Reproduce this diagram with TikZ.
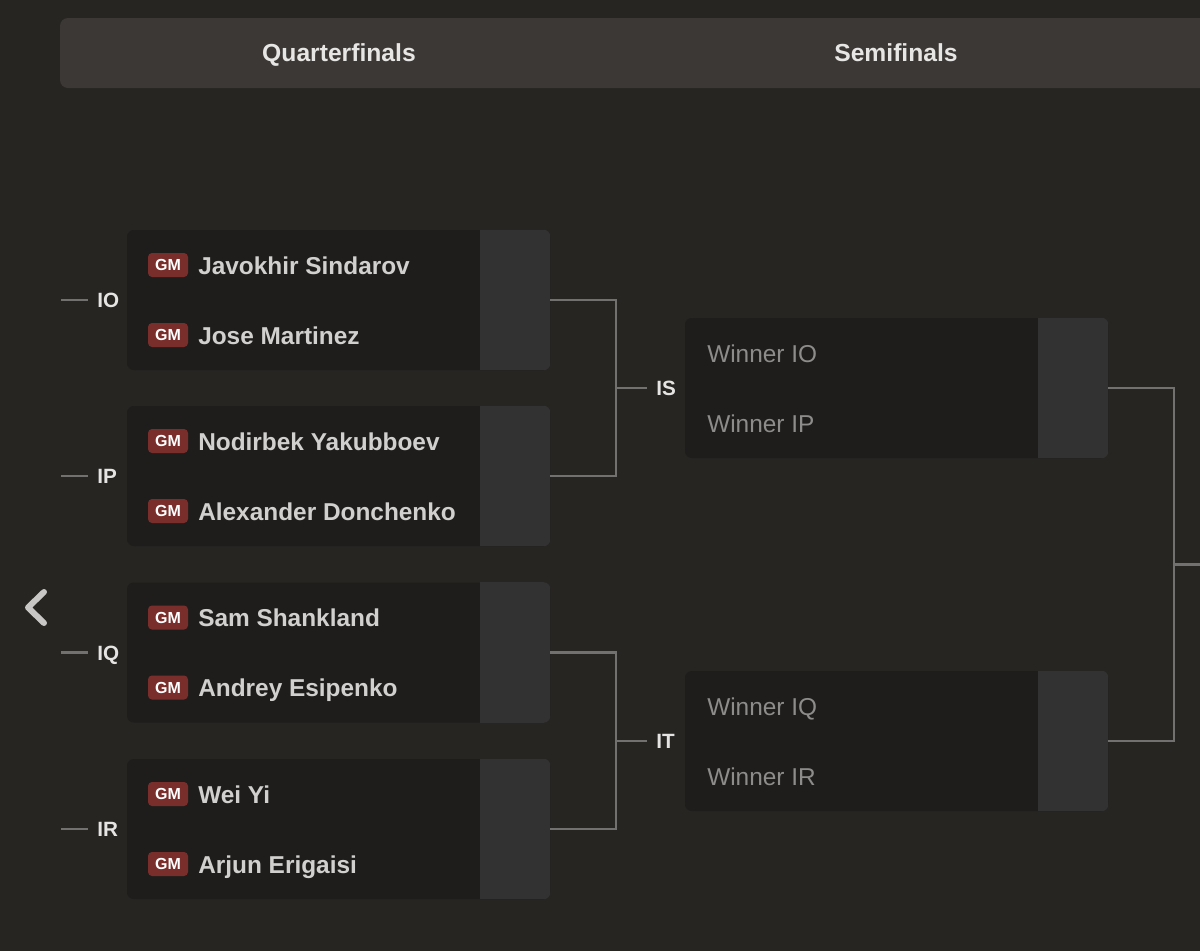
\documentclass[tikz,border=0pt]{standalone}
\usepackage{fontspec}
\setmainfont{Liberation Sans}
\usetikzlibrary{positioning,calc}
\definecolor{BgClr}{HTML}{262522}
\definecolor{HeadClr}{HTML}{3B3836}
\definecolor{HeadTxt}{HTML}{E8E6E4}
\definecolor{BoxClr}{HTML}{1E1D1C}
\definecolor{ScoreClr}{HTML}{333232}
\definecolor{LinkClr}{HTML}{72716F}
\definecolor{BadgeClr}{HTML}{7A2E2B}
\definecolor{NameClr}{HTML}{D2D0CE}
\definecolor{WinClr}{HTML}{8E8C8A}
\definecolor{LblClr}{HTML}{E6E4E2}
\definecolor{ChevClr}{HTML}{C8C7C5}

\begin{document}
\begin{tikzpicture}[x=0.75pt,y=-0.75pt,
  match/.style={fill=BoxClr,rounded corners=5pt,minimum width=317.25pt,minimum height=105pt,inner sep=0pt},
  badge/.style={fill=BadgeClr,text=white,rounded corners=3pt,minimum width=30pt,minimum height=18pt,inner sep=0pt,font=\bfseries\fontsize{12}{12}\selectfont},
  player/.style={anchor=base west,inner sep=0pt,text=NameClr,font=\bfseries\fontsize{18.3}{18.3}\selectfont},
  winner/.style={anchor=base west,inner sep=0pt,text=WinClr,font=\fontsize{18.3}{18.3}\selectfont},
  matchlbl/.style={anchor=base west,inner xsep=6.75pt,inner ysep=0pt,text=LblClr,font=\bfseries\fontsize{15.5}{15.5}\selectfont},
  link/.style={draw=LinkClr,line width=2.2pt},
  head/.style={anchor=base,text=HeadTxt,font=\bfseries\fontsize{18.5}{18.5}\selectfont}]

\useasboundingbox (0,0) rectangle (1200,951);
\fill[BgClr] (0,0) rectangle (1200,951);

\fill[HeadClr,rounded corners=6pt] (60,18) rectangle (1220,88);
\node[head] (hq) at (339,61.5) {Quarterfinals};
\node[head] (hs) at (896,61.5) {Semifinals};

\draw[ChevClr,line width=4.5pt,line cap=round,line join=round] (44,592) -- (28,607.5) -- (44,623);

\foreach \m/\y/\lbl/\pa/\pb in {q1/300/IO/Javokhir Sindarov/Jose Martinez,
    q2/476/IP/Nodirbek Yakubboev/Alexander Donchenko,
    q3/652.5/IQ/Sam Shankland/Andrey Esipenko,
    q4/829/IR/Wei Yi/Arjun Erigaisi}{
  \node[match] (\m) at (338.5,\y) {};
  \begin{scope}
    \clip[rounded corners=5pt] (\m.north west) rectangle (\m.south east);
    \fill[ScoreClr] ([xshift=-52.5pt]\m.north east) rectangle (\m.south east);
  \end{scope}
  \node[badge] (\m-b1) at (168,\y-35) {GM};
  \node[badge] (\m-b2) at (168,\y+35) {GM};
  \node[player] (\m-p1) at (198,\y-26) {\pa};
  \node[player] (\m-p2) at (198,\y+44) {\pb};
  \node[matchlbl] (\lbl) at (88,\y+7.5) {\lbl};
  \coordinate (\lbl-in) at (61,\y);
  \draw[link] (\lbl-in) -- (\lbl-in -| \lbl.west);
}

\foreach \m/\y/\lbl/\pa/\pb in {s1/388/IS/Winner IO/Winner IP,
    s2/741/IT/Winner IQ/Winner IR}{
  \node[match] (\m) at (896.5,\y) {};
  \begin{scope}
    \clip[rounded corners=5pt] (\m.north west) rectangle (\m.south east);
    \fill[ScoreClr] ([xshift=-52.5pt]\m.north east) rectangle (\m.south east);
  \end{scope}
  \node[winner] (\m-p1) at (707,\y-26) {\pa};
  \node[winner] (\m-p2) at (707,\y+44) {\pb};
  \node[matchlbl] (\lbl) at (647,\y+7.5) {\lbl};
}

\coordinate (jS) at (616,388);
\coordinate (jT) at (616,741);
\draw[link] (q1.east) -| (jS) |- (q2.east);
\draw[link] (jS) -- (jS -| IS.west);
\draw[link] (q3.east) -| (jT) |- (q4.east);
\draw[link] (jT) -- (jT -| IT.west);

\coordinate (jF) at (1174,564.5);
\coordinate (fin) at (1200,564.5);
\draw[link] (s1.east) -| (jF) |- (s2.east);
\draw[link] (jF) -- (fin);

\end{tikzpicture}
\end{document}
